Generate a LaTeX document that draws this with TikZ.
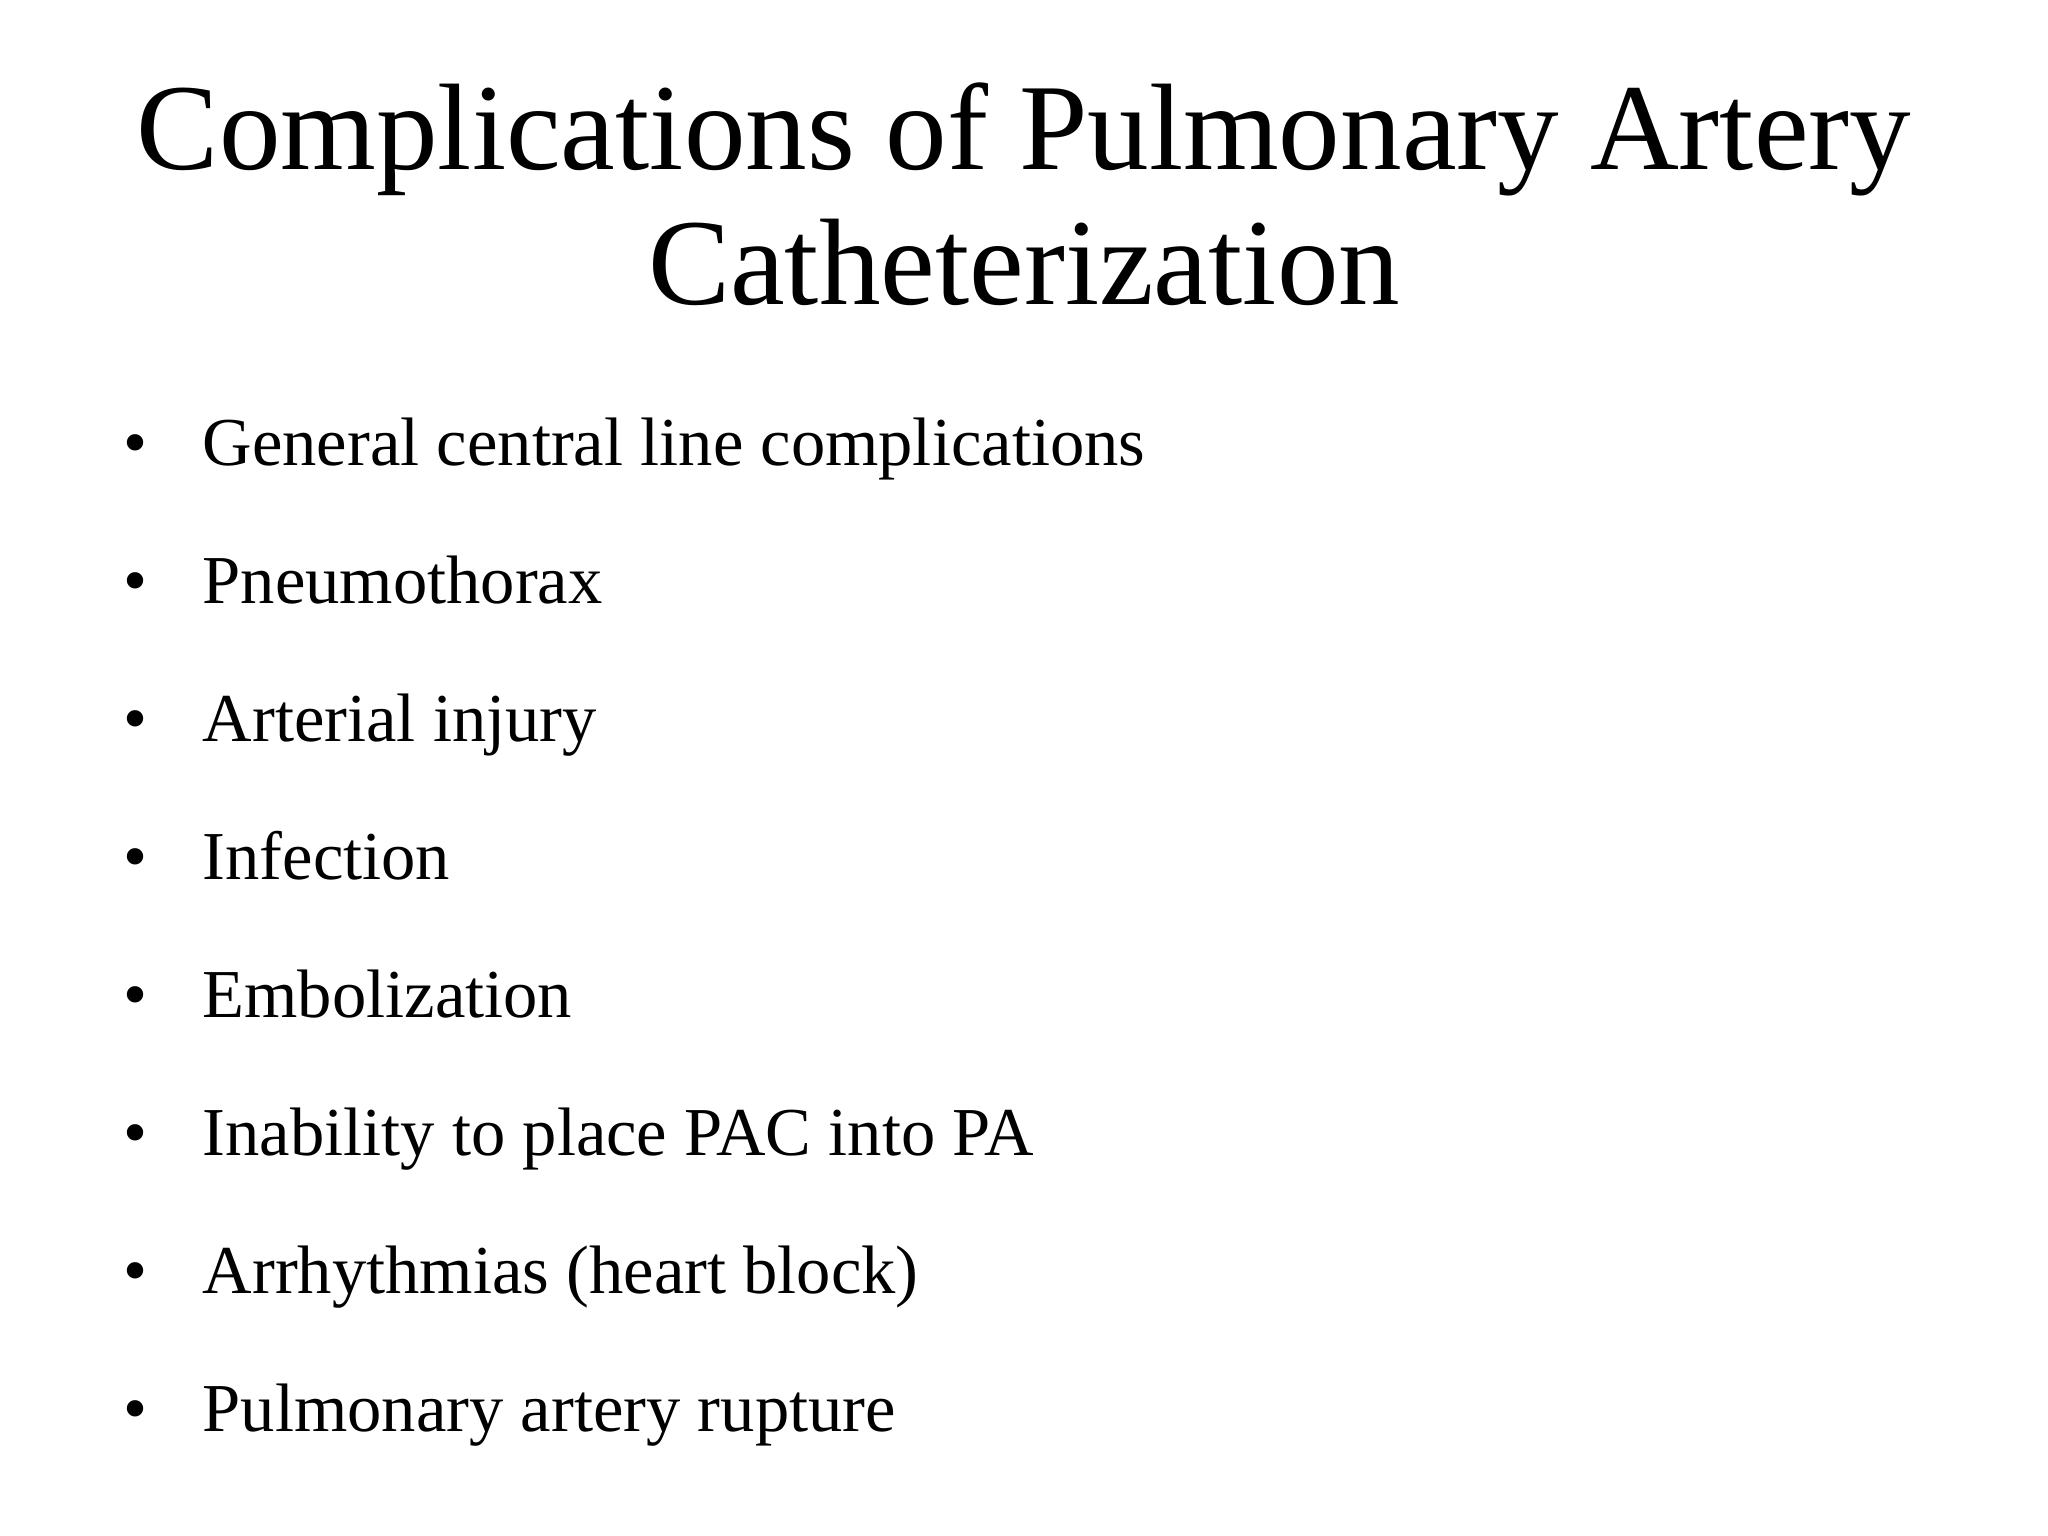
\documentclass[tikz,border=0pt]{standalone}
\usepackage{fontspec}
\setmainfont{Liberation Serif}
\begin{document}
\begin{tikzpicture}[x=0.01cm,y=-0.01cm,
  title/.style={anchor=base,font=\fontsize{35}{40}\selectfont,inner sep=0},
  item/.style={anchor=base west,font=\fontsize{19.5}{22}\selectfont,inner sep=0},
  bul/.style={anchor=base,font=\fontsize{19.5}{22}\selectfont,inner sep=0}]
\useasboundingbox[fill=white] (0,0) rectangle (2048,1536);
\node[title] (t1) at (1024,169) {Complications of Pulmonary Artery};
\node[title] (t2) at (1024,304) {Catheterization};
\foreach \t [count=\i from 0] in {General central line complications,Pneumothorax,Arterial injury,Infection,Embolization,Inability to place PAC into PA,Arrhythmias (heart block),Pulmonary artery rupture}{
  \node[bul] (b\i) at (136,465+138*\i) {•};
  \node[item] (i\i) at (202,465+138*\i) {\t};
}
\end{tikzpicture}
\end{document}
